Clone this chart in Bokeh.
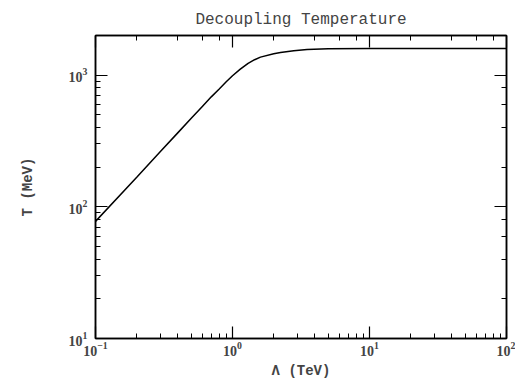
from bokeh.plotting import figure
from bokeh.models import LogAxis, Range1d
from bokeh.embed import file_html
from bokeh.resources import INLINE

lam = [0.1, 0.2, 0.3, 0.4, 0.5, 0.6, 0.7, 0.8, 0.9, 1.0, 1.14, 1.3, 1.45, 1.6, 2.0, 2.24, 2.8, 3.5, 5.0, 10, 30, 100]
temp = [77.5, 168, 265, 366, 470, 576, 684, 785, 890, 990, 1110, 1230, 1310, 1370, 1455, 1485, 1535, 1565, 1585, 1592, 1592, 1592]

FONT = "Liberation Mono"
SERIF = "Liberation Serif"

p = figure(x_axis_type="log", y_axis_type="log",
           x_range=Range1d(0.1, 100), y_range=Range1d(10, 2000),
           output_backend="svg", toolbar_location=None,
           frame_width=411, frame_height=303,
           min_border_left=95, min_border_right=9, min_border_top=35, min_border_bottom=40,
           title="Decoupling Temperature")
p.title.align = "center"
p.title.text_font = FONT
p.title.text_font_size = "16px"
p.title.text_font_style = "normal"
p.title.offset = 0
p.title.standoff = 14
p.grid.visible = False
p.background_fill_color = "white"
p.outline_line_color = "black"
p.outline_line_width = 1.5

p.line(lam, temp, line_color="black", line_width=1.5)

def style(ax, labels=True):
    ax.axis_line_color = "black"
    ax.axis_line_width = 1.5
    ax.major_tick_in = 12
    ax.major_tick_out = 0
    ax.minor_tick_in = 5
    ax.minor_tick_out = 0
    ax.major_tick_line_width = 1.2
    ax.minor_tick_line_width = 1
    ax.major_label_text_font = SERIF
    ax.major_label_text_font_style = "bold"
    ax.major_label_text_font_size = "14px"
    ax.axis_label_text_font = FONT
    ax.axis_label_text_font_style = "bold"
    ax.axis_label_text_font_size = "14px"
    if not labels:
        ax.major_label_text_font_size = "0px"
        ax.major_label_text_alpha = 0

style(p.xaxis[0])
style(p.yaxis[0])
p.xaxis[0].axis_label = "Λ (TeV)"
p.yaxis[0].axis_label = "T (MeV)"
p.xaxis[0].major_label_standoff = 3
p.xaxis[0].axis_label_standoff = 4
p.yaxis[0].major_label_standoff = 8
p.yaxis[0].axis_label_standoff = 30

ra = LogAxis()
style(ra, labels=False)
p.add_layout(ra, "right")
ta = LogAxis()
style(ta, labels=False)
p.add_layout(ta, "above")

open("out.html", "w").write(file_html(p, INLINE))
